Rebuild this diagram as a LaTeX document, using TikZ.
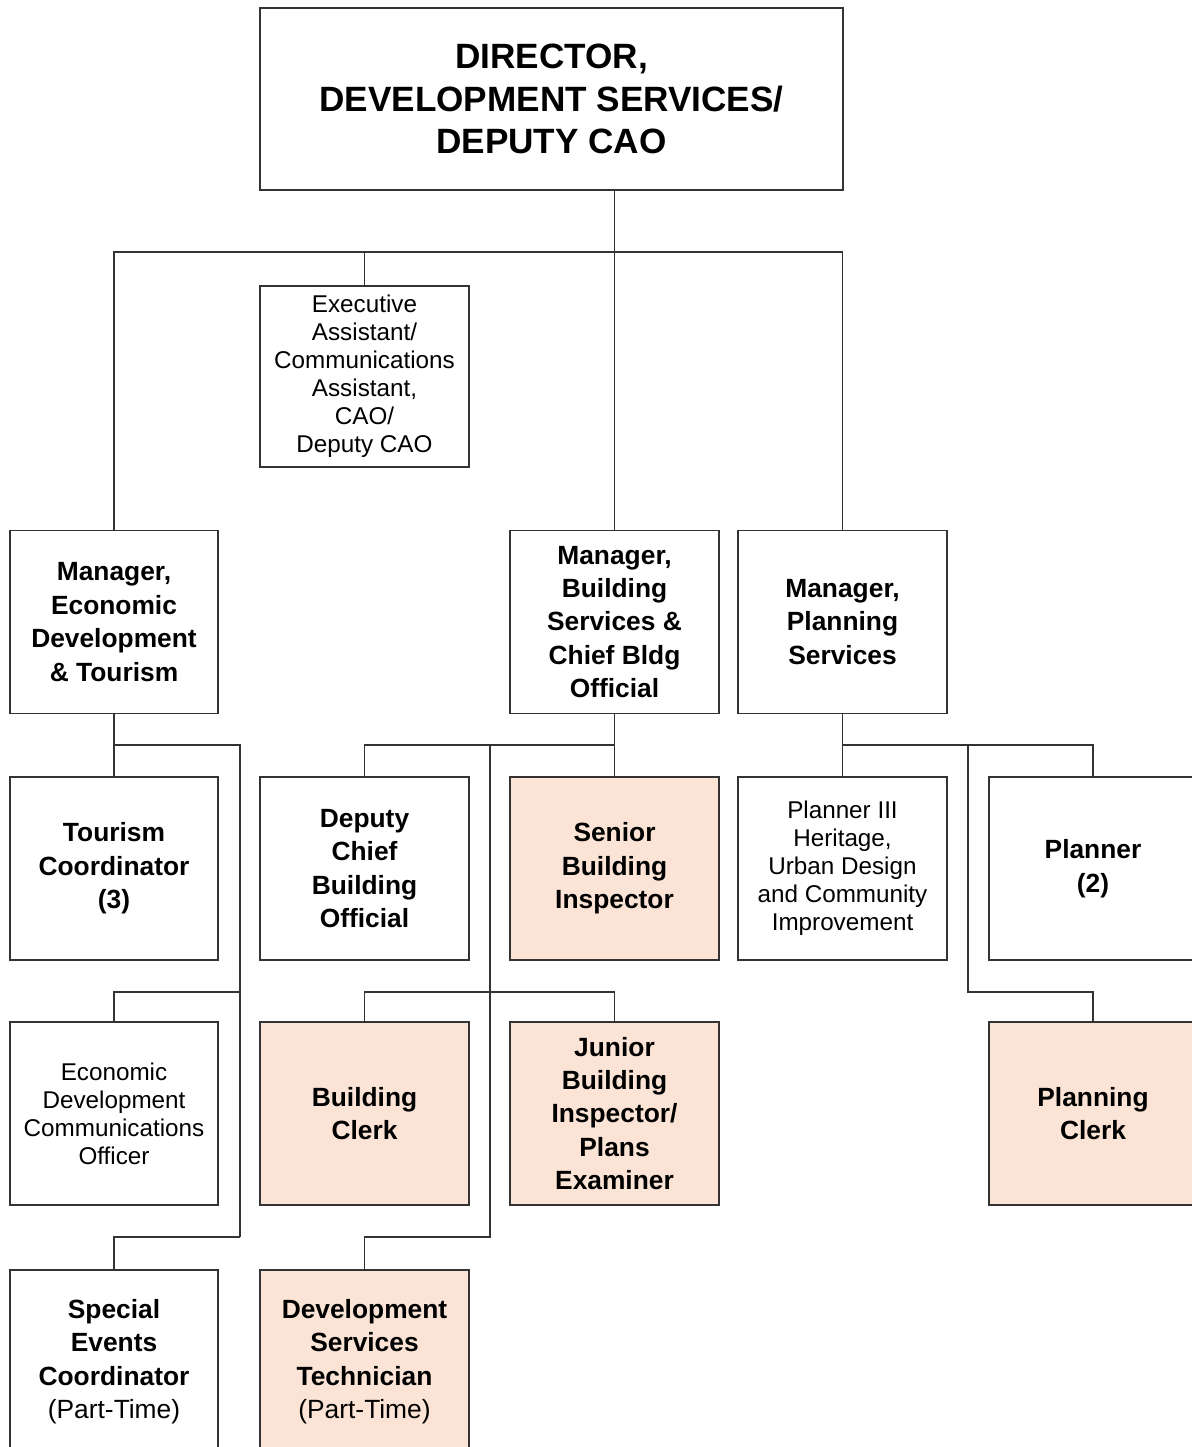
\documentclass[tikz,border=0pt]{standalone}
\usepackage{fontspec}
\setmainfont{Liberation Sans}
\usepackage{tikz}

\definecolor{peach}{HTML}{FBE4D5}
\tikzset{
  post/.style={draw=black!80, line width=1pt, minimum width=4.17cm, minimum height=3.66cm, align=center, inner sep=1pt},
  shaded/.style={post, fill=peach},
  big/.style={font=\fontsize{15}{19}\selectfont\bfseries},
  small/.style={font=\fontsize{13.8}{15.9}\selectfont},
  link/.style={draw=black!80, line width=1pt},
}

\begin{document}
\begin{tikzpicture}[x=0.02cm, y=-0.02cm]
      \useasboundingbox (0,0) rectangle (1191,1447);

      %Director
      \node[post, minimum width=11.66cm, minimum height=3.64cm, font=\fontsize{20}{24.4}\selectfont\bfseries] (Director) at (551.5,99) {DIRECTOR,\\DEVELOPMENT SERVICES/\\DEPUTY CAO};

      %Assistant
      \node[post, small, minimum height=3.62cm] (Assistant) at (364.5,376.5) {Executive\\Assistant/\\Communications\\Assistant,\\CAO/\\Deputy CAO};

      %Managers
      \node[post, big] (EcoMgr) at (114,622) {Manager,\\Economic\\Development\\\& Tourism};
      \node[post, big] (BldgMgr) at (614.5,622) {Manager,\\Building\\Services \&\\Chief Bldg\\Official};
      \node[post, big] (PlanMgr) at (842.5,622) {Manager,\\Planning\\Services};

      %Second row
      \node[post, big] (Tourism) at (114,868.5) {Tourism\\Coordinator\\(3)};
      \node[post, big] (Deputy) at (364.5,868.5) {Deputy\\Chief\\Building\\Official};
      \node[shaded, big] (Senior) at (614.5,868.5) {Senior\\Building\\Inspector};
      \node[post, small] (Planner3) at (842.5,868.5) {Planner III\\Heritage,\\Urban Design\\and Community\\Improvement};
      \node[post, big] (Planner) at (1093,868.5) {Planner\\(2)};

      %Third row
      \node[post, small] (EcoComm) at (114,1113.5) {Economic\\Development\\Communications\\Officer};
      \node[shaded, big] (Clerk) at (364.5,1113.5) {Building\\Clerk};
      \node[shaded, big] (Junior) at (614.5,1113.5) {Junior\\Building\\Inspector/\\Plans\\Examiner};
      \node[shaded, big] (PlanClerk) at (1093,1113.5) {Planning\\Clerk};

      %Fourth row
      \node[post, big] (Special) at (114,1361.5) {Special\\Events\\Coordinator\\{\mdseries (Part-Time)}};
      \node[shaded, big] (DevTech) at (364.5,1361.5) {Development\\Services\\Technician\\{\mdseries (Part-Time)}};

      %Joints
      \coordinate (Bar) at (0,252);
      \coordinate (EcoTop) at (240,745);
      \coordinate (EcoMid) at (240,992);
      \coordinate (EcoLow) at (240,1237);
      \coordinate (BldgTop) at (490,745);
      \coordinate (BldgMid) at (490,992);
      \coordinate (BldgLow) at (490,1237);
      \coordinate (PlanTop) at (968,745);
      \coordinate (PlanMid) at (968,992);

      %Lines from the director
      \draw[link] (Director.south -| BldgMgr.north) -- (BldgMgr.north);
      \draw[link] (EcoMgr.north) -- (EcoMgr.north |- Bar) -- (PlanMgr.north |- Bar) -- (PlanMgr.north);
      \draw[link] (Assistant.north) -- (Assistant.north |- Bar);

      %Economic development
      \draw[link] (EcoMgr.south) -- (Tourism.north);
      \draw[link] (EcoMgr.south |- EcoTop) -- (EcoTop) -- (EcoLow);
      \draw[link] (EcoMid) -- (EcoMid -| EcoComm.north) -- (EcoComm.north);
      \draw[link] (EcoLow) -- (EcoLow -| Special.north) -- (Special.north);

      %Building
      \draw[link] (BldgMgr.south) -- (Senior.north);
      \draw[link] (Senior.north |- BldgTop) -- (Deputy.north |- BldgTop) -- (Deputy.north);
      \draw[link] (BldgTop) -- (BldgLow) -- (BldgLow -| DevTech.north) -- (DevTech.north);
      \draw[link] (Clerk.north) -- (Clerk.north |- BldgMid) -- (Junior.north |- BldgMid) -- (Junior.north);

      %Planning
      \draw[link] (PlanMgr.south) -- (Planner3.north);
      \draw[link] (Planner3.north |- PlanTop) -- (Planner.north |- PlanTop) -- (Planner.north);
      \draw[link] (PlanTop) -- (PlanMid) -- (PlanMid -| PlanClerk.north) -- (PlanClerk.north);
\end{tikzpicture}
\end{document}
